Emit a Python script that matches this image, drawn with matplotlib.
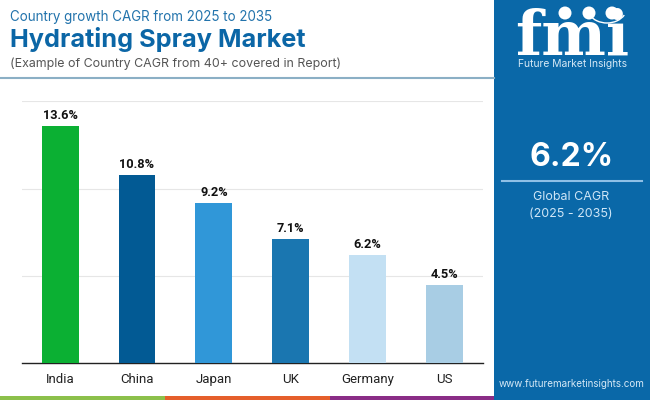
import matplotlib
matplotlib.use('Agg')
import matplotlib.pyplot as plt
from matplotlib.patches import Rectangle, Circle, Arc

# Data
countries = ['India', 'China', 'Japan', 'UK', 'Germany', 'US']
cagr = [13.6, 10.8, 9.2, 7.1, 6.2, 4.5]
bar_colors = ['#0bb033', '#025a94', '#3097d8', '#1a76b0', '#c3e0f3', '#a8cde4']
y_ticks = [0, 5, 10, 15]

W, H = 650, 400
BLUE = '#0a68a8'

plt.rcParams['font.family'] = ['Inter', 'DejaVu Sans']
fig = plt.figure(figsize=(W / 100, H / 100), dpi=100, facecolor='white')

# overlay in pixel coordinates for the panel, header and footer
bg = fig.add_axes([0, 0, 1, 1])
bg.set_xlim(0, W)
bg.set_ylim(H, 0)
bg.axis('off')

bg.add_patch(Rectangle((494, 0), 156, 400, color=BLUE, lw=0))
bg.add_patch(Rectangle((0, 396), 165, 4, color='#8cc04b', lw=0))
bg.add_patch(Rectangle((165, 396), 165, 4, color='#e55f2b', lw=0))
bg.add_patch(Rectangle((330, 396), 164, 4, color='#8a2d86', lw=0))
bg.plot([0, 494], [78, 78], color='#8bafc5', lw=1.5)

# header
bg.text(10, 17, 'Country growth CAGR from 2025 to 2035', fontsize=9.65, color='#2273ac', va='center')
bg.text(10, 40, 'Hydrating Spray Market', fontsize=18.2, fontweight='bold', color='#0b66a6', va='center')
bg.text(10, 64, '(Example of Country CAGR from 40+ covered in Report)', fontsize=8.95, color='#555555', va='center')

# right panel
bg.text(572, 157, '6.2%', fontsize=23, fontweight='bold', color='white', ha='center', va='center')
bg.plot([502, 642], [181, 181], color='#8fc0e6', lw=1.5)
bg.text(571, 197, 'Global CAGR', fontsize=9, color='#cfe6f7', ha='center', va='center')
bg.text(571, 214, '(2025 - 2035)', fontsize=9, color='#cfe6f7', ha='center', va='center')
bg.text(572, 384, 'www.futuremarketinsights.com', fontsize=7.1, color='#d5e8f6', ha='center', va='center')

# logo
bg.text(572, 55, 'fmi', fontsize=44, fontweight='bold', family='DejaVu Serif', color='white',
        ha='center', va='baseline')
for y in range(13, 56, 3):
    bg.plot([512, 632], [y, y], color=BLUE, lw=0.8)
for cx, cy in [(565, 13), (589, 13), (612, 13)]:
    bg.add_patch(Circle((cx, cy), 6.5, color='white', lw=0, zorder=3))
bg.add_patch(Arc((607, 7), 40, 32, theta1=25, theta2=155, color='white', lw=1, zorder=3))
bg.text(572, 64, 'Future Market Insights', fontsize=7.45, color='#d5e8f6', ha='center', va='center')

# bar chart
ax = fig.add_axes([22 / W, 37 / H, 461 / W, 261.5 / H])
ax.patch.set_alpha(0)
ax.bar(countries, cagr, width=0.48, color=bar_colors, zorder=3)
for i, v in enumerate(cagr):
    ax.text(i, v + 0.22, f'{v}%', ha='center', va='bottom', fontsize=9.2, fontweight='bold',
            family='Roboto', color='#111111')

ax.set_xlim(-0.495, 5.5)
ax.set_ylim(0, 15)
ax.set_yticks(y_ticks)
ax.set_yticklabels([])
ax.grid(axis='y', color='#e6e6e6', lw=0.8, zorder=0)
ax.tick_params(length=0)
ax.tick_params(axis='x', pad=7, labelsize=9.5, labelcolor='#222222')
for lab in ax.get_xticklabels():
    lab.set_family('Roboto')
for side in ['top', 'left', 'right']:
    ax.spines[side].set_visible(False)
ax.spines['bottom'].set_color('#222222')
ax.spines['bottom'].set_linewidth(1)

fig.savefig('out.png', dpi=100)
